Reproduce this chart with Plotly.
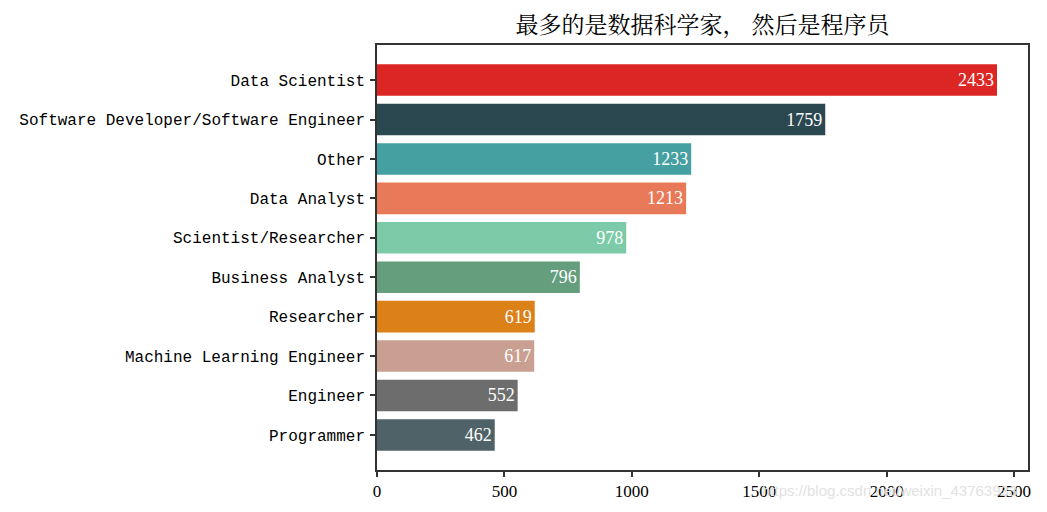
import plotly.graph_objects as go

categories = ["Data Scientist", "Software Developer/Software Engineer", "Other",
              "Data Analyst", "Scientist/Researcher", "Business Analyst",
              "Researcher", "Machine Learning Engineer", "Engineer", "Programmer"]
counts = [2433, 1759, 1233, 1213, 978, 796, 619, 617, 552, 462]
colors = ["#dc2624", "#2b4750", "#45a0a2", "#e87a59", "#7dcaa9",
          "#649e7d", "#dc8018", "#c89f91", "#6c6d6c", "#4f6268"]
x_ticks = [0, 500, 1000, 1500, 2000, 2500]
title = "最多的是数据科学家， 然后是程序员"

fig = go.Figure(go.Bar(
    x=counts, y=categories, orientation="h",
    marker=dict(color=colors, line=dict(width=0)),
    width=0.8,
    text=[str(c) for c in counts],
    textposition="inside", insidetextanchor="end",
    textfont=dict(family="Liberation Serif", size=18, color="white"),
    cliponaxis=False,
))

axis_line = dict(showline=True, linecolor="#333333", linewidth=1.6, mirror=True,
                 ticks="outside", ticklen=5, tickwidth=1.6, tickcolor="#333333",
                 showgrid=False, zeroline=False)

fig.update_layout(
    width=1047, height=512,
    margin=dict(l=377, r=19, t=45, b=42),
    paper_bgcolor="white", plot_bgcolor="white",
    title=dict(text=title, x=(377 + 1028) / 2 / 1047, xanchor="center",
               y=1 - 25 / 512, yanchor="middle",
               font=dict(family="Noto Serif CJK SC, Noto Sans CJK SC", size=23, color="black")),
    xaxis=dict(range=[0, max(counts) * 1.05], tickvals=x_ticks,
               tickfont=dict(family="Liberation Serif", size=17, color="black"),
               **axis_line),
    yaxis=dict(range=[len(categories) - 1 + 0.89, -0.89], type="category",
               tickfont=dict(family="Liberation Mono", size=16, color="black"),
               ticklabelstandoff=2,
               **axis_line),
    showlegend=False,
    font=dict(family="Liberation Serif"),
)

fig.add_annotation(text="https://blog.csdn.net/weixin_43763933", xref="paper", yref="paper",
                   x=(760 - 377) / 651, y=-21 / 425, xanchor="left", yanchor="middle",
                   showarrow=False, font=dict(family="Liberation Sans", size=15, color="#e2e2e2"))

fig.write_html("out.html")
